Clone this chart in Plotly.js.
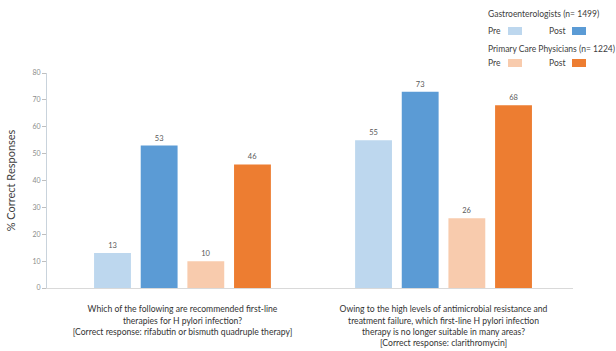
<!DOCTYPE html>
<html>
<head>
<meta charset="utf-8">
<script src="https://cdn.plot.ly/plotly-3.0.1.min.js"></script>
<style>
  html, body { margin: 0; padding: 0; background: #ffffff; }
  #chart { width: 616px; height: 351px; }
</style>
</head>
<body>
<div id="chart"></div>
<script>
// Questions (x categories) and their multi-line labels
const questions = ['Q1', 'Q2'];
const questionLabels = [
  'Which of the following are recommended first-line<br>therapies for H pylori infection?<br>[Correct response: rifabutin or bismuth quadruple therapy]',
  'Owing to the high levels of antimicrobial resistance and<br>treatment failure, which first-line H pylori infection<br>therapy is no longer suitable in many areas?<br>[Correct response: clarithromycin]'
];

// % correct responses per group, pre and post activity
const gastroPre = [13, 55];
const gastroPost = [53, 73];
const pcpPre = [10, 26];
const pcpPost = [46, 68];

const seriesNames = ['Gastroenterologists Pre', 'Gastroenterologists Post', 'Primary Care Physicians Pre', 'Primary Care Physicians Post'];
const seriesColors = ['#BDD7EE', '#5B9BD5', '#F8CBAD', '#ED7D31'];

// Legend header text
const groupTitles = ['Gastroenterologists (n= 1499)', 'Primary Care Physicians (n= 1224)'];

const FONT = 'Lato, "Liberation Sans", sans-serif';

// Plot area geometry (pixels) used to place the custom legend
const W = 616, H = 351;
const M = { l: 47, r: 43, t: 73, b: 63 };
const PW = W - M.l - M.r, PH = H - M.t - M.b;
const px = x => (x - M.l) / PW;
const py = y => (H - M.b - y) / PH;

const seriesValues = [gastroPre, gastroPost, pcpPre, pcpPost];
const traces = seriesValues.map((vals, i) => ({
  type: 'bar',
  name: seriesNames[i],
  x: questions,
  y: vals,
  marker: { color: seriesColors[i] },
  text: vals.map(String),
  textposition: 'outside',
  cliponaxis: false,
  textfont: { family: FONT, size: 7.5, color: '#595959' },
  hoverinfo: 'skip'
}));

// Custom legend: group headings, "Pre"/"Post" words and colour swatches
const annotations = [];
const shapes = [];
const legendRows = [
  { title: groupTitles[0], titleY: 14, rowY: 31, colors: [seriesColors[0], seriesColors[1]] },
  { title: groupTitles[1], titleY: 49, rowY: 63, colors: [seriesColors[2], seriesColors[3]] }
];
legendRows.forEach(r => {
  annotations.push({
    xref: 'paper', yref: 'paper', x: px(486), y: py(r.titleY),
    xanchor: 'left', yanchor: 'middle', showarrow: false,
    text: r.title, font: { family: FONT, size: 8.5, color: '#404040' }
  });
  annotations.push({
    xref: 'paper', yref: 'paper', x: px(486), y: py(r.rowY),
    xanchor: 'left', yanchor: 'middle', showarrow: false,
    text: 'Pre', font: { family: FONT, size: 8.5, color: '#404040' }
  });
  annotations.push({
    xref: 'paper', yref: 'paper', x: px(547), y: py(r.rowY),
    xanchor: 'left', yanchor: 'middle', showarrow: false,
    text: 'Post', font: { family: FONT, size: 8.5, color: '#404040' }
  });
  [[508, 522], [572, 586]].forEach((xs, k) => {
    shapes.push({
      type: 'rect', xref: 'paper', yref: 'paper',
      x0: px(xs[0]), x1: px(xs[1]), y0: py(r.rowY + 4), y1: py(r.rowY - 4),
      fillcolor: r.colors[k], line: { width: 0 }
    });
  });
});

const layout = {
  width: W, height: H,
  margin: M,
  paper_bgcolor: '#ffffff',
  plot_bgcolor: '#ffffff',
  barmode: 'group',
  bargap: 0.285,
  bargroupgap: 0.21,
  showlegend: false,
  font: { family: FONT, color: '#404040' },
  xaxis: {
    type: 'category',
    range: [-0.519, 1.496],
    tickmode: 'array',
    tickvals: questions,
    ticktext: questionLabels,
    tickfont: { family: FONT, size: 8.6, color: '#333333' },
    ticks: '',
    ticklabelstandoff: 13,
    showline: true,
    linecolor: '#d9d9d9',
    linewidth: 1,
    showgrid: false,
    zeroline: false,
    fixedrange: true
  },
  yaxis: {
    range: [0, 80],
    tickmode: 'linear',
    tick0: 0,
    dtick: 10,
    ticks: 'outside',
    ticklen: 4,
    tickcolor: '#bfbfbf',
    tickfont: { family: FONT, size: 7, color: '#8c8c8c' },
    showline: true,
    linecolor: '#c9d3dc',
    linewidth: 1,
    showgrid: false,
    zeroline: false,
    title: { text: '% Correct Responses', font: { family: FONT, size: 11, color: '#404040' }, standoff: 14 },
    fixedrange: true
  },
  annotations: annotations,
  shapes: shapes
};

Plotly.newPlot('chart', traces, layout, { displayModeBar: false, staticPlot: true });
</script>
</body>
</html>
